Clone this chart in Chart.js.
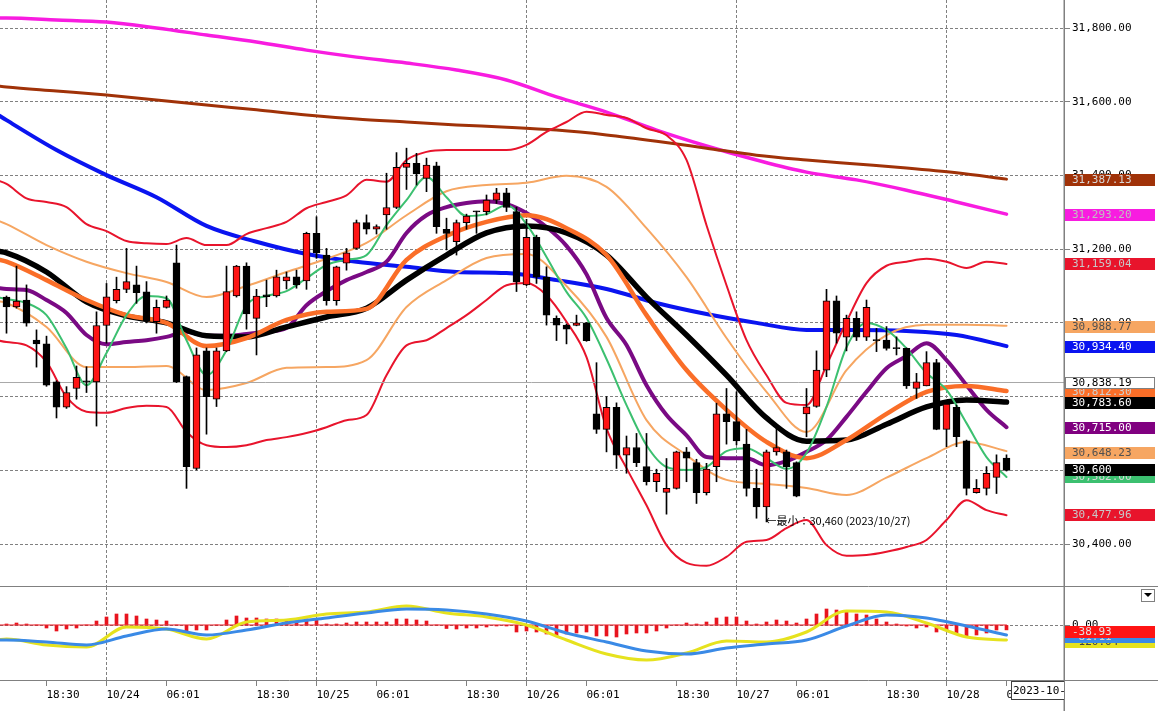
<!DOCTYPE html>
<html>
<head>
<meta charset="utf-8">
<script src="https://cdn.jsdelivr.net/npm/chart.js@4.4.0/dist/chart.umd.min.js"></script>
<style>
  html, body { margin: 0; padding: 0; background: #fff; overflow: hidden; }
  #wrap { position: relative; width: 1158px; height: 711px; }
  canvas { position: absolute; left: 0; }
  #main { top: 0; }
  #macd { top: 587px; }
</style>
</head>
<body>
<div id="wrap">
  <canvas id="main" width="1158" height="587"></canvas>
  <canvas id="macd" width="1158" height="124"></canvas>
</div>
<script>
// --- Data: hourly candles, index 0..100 ---
const candleOpen = [
  31070, 31043, 31062, 30953, 30943, 30840, 30771, 30822, 30843, 30840,
  30993, 31060, 31091, 31103, 31084, 31003, 31042, 31163, 30854, 30605,
  30924, 30793, 30924, 31073, 31154, 31012, 31076, 31073, 31114, 31125,
  31114, 31243, 31184, 31060, 31162, 31202, 31272, 31254, 31293, 31313,
  31422, 31433, 31392, 31426, 31254, 31220, 31272, 31302, 31302, 31333,
  31353, 31302, 31103, 31232, 31124, 31012, 30994, 30993, 31000, 30753,
  30711, 30771, 30641, 30662, 30610, 30569, 30540, 30551, 30650, 30621,
  30539, 30610, 30753, 30732, 30671, 30551, 30501, 30650, 30650, 30621,
  30753, 30773, 30872, 31060, 30961, 31012, 30961, 30954, 30953, 30931,
  30931, 30822, 30829, 30892, 30711, 30771, 30680, 30539, 30551, 30581,
  30633
];
const candleHigh = [
  31073, 31154, 31103, 30981, 30964, 30843, 30827, 30883, 30881, 31030,
  31107, 31124, 31202, 31154, 31112, 31062, 31073, 31211, 30856, 30932,
  30932, 30932, 31154, 31156, 31163, 31091, 31116, 31143, 31138, 31143,
  31246, 31288, 31202, 31154, 31202, 31279, 31293, 31266, 31406, 31462,
  31474, 31460, 31447, 31436, 31284, 31279, 31295, 31303, 31347, 31365,
  31365, 31314, 31281, 31238, 31152, 31019, 30997, 31021, 31001, 30892,
  30800, 30783, 30693, 30700, 30700, 30603, 30632, 30652, 30662, 30630,
  30619, 30782, 30822, 30813, 30711, 30603, 30655, 30723, 30655, 30623,
  30822, 30924, 31091, 31073, 31021, 31030, 31062, 30985, 30990, 30962,
  30932, 30863, 30922, 30901, 30781, 30777, 30682, 30575, 30610, 30642,
  30642
];
const candleLow = [
  30972, 31040, 30991, 30880, 30828, 30742, 30768, 30793, 30811, 30720,
  30945, 31054, 31082, 31053, 31000, 30972, 31040, 30838, 30551, 30601,
  30698, 30773, 30922, 31070, 30983, 30913, 31044, 31070, 31092, 31094,
  31091, 31175, 31048, 31048, 31143, 31200, 31241, 31241, 31254, 31310,
  31362, 31374, 31356, 31243, 31198, 31184, 31254, 31243, 31293, 31324,
  31302, 31085, 31101, 31107, 30994, 30952, 30943, 30992, 30950, 30700,
  30650, 30605, 30592, 30610, 30560, 30542, 30481, 30549, 30569, 30510,
  30533, 30569, 30671, 30669, 30530, 30470, 30460, 30641, 30551, 30528,
  30691, 30771, 30854, 30945, 30924, 30952, 30952, 30922, 30926, 30913,
  30822, 30795, 30829, 30710, 30664, 30664, 30533, 30538, 30533, 30537,
  30598
];
const candleClose = [
  31043, 31059, 30999, 30943, 30831, 30771, 30811, 30852, 30840, 30993,
  31071, 31091, 31112, 31082, 31006, 31042, 31062, 30840, 30610, 30913,
  30800, 30924, 31085, 31154, 31024, 31073, 31071, 31125, 31125, 31103,
  31243, 31190, 31060, 31152, 31190, 31272, 31254, 31261, 31313, 31422,
  31433, 31404, 31428, 31261, 31243, 31272, 31290, 31301, 31333, 31353,
  31313, 31112, 31232, 31124, 31021, 30994, 30983, 31000, 30952, 30711,
  30771, 30641, 30662, 30621, 30569, 30592, 30551, 30650, 30633, 30539,
  30603, 30753, 30732, 30680, 30551, 30501, 30650, 30662, 30610, 30530,
  30772, 30872, 31060, 30972, 31012, 30961, 31042, 30952, 30931, 30930,
  30829, 30840, 30892, 30711, 30780, 30691, 30551, 30551, 30592, 30621,
  30600
];

// indicator lines, sampled every 2 / 4 / 5 candles (first point = left edge)
const ma5 = [31070, 31065, 31054, 31021, 30931, 30831, 30918, 31021, 31073, 31067, 30953,
  30858, 30926, 31048, 31073, 31086, 31121, 31157, 31171, 31184, 31265,
  31333, 31396, 31341, 31290, 31295, 31319, 31268, 31179, 31084, 31013,
  30902, 30777, 30668, 30609, 30601, 30609, 30652, 30660, 30633, 30604,
  30647, 30772, 30934, 31000, 30981, 30931, 30864, 30818, 30728, 30636, 30582];
const ma10 = [31095, 31092, 31089, 31062, 31027, 30967, 30942, 30948, 30953, 30962, 30976,
  30965, 30965, 30970, 30976, 30986, 31048, 31086, 31116, 31138, 31166,
  31244, 31292, 31314, 31325, 31330, 31322, 31298, 31260, 31209, 31132,
  31013, 30940, 30831, 30750, 30695, 30636, 30633, 30633, 30614, 30625,
  30650, 30682, 30745, 30813, 30877, 30910, 30945, 30899, 30831, 30764, 30717];
const bbUpper2 = [31388, 31377, 31338, 31328, 31314, 31268, 31249, 31222, 31216, 31214, 31230,
  31211, 31211, 31241, 31257, 31274, 31311, 31328, 31346, 31388, 31383,
  31442, 31464, 31469, 31469, 31469, 31469, 31483, 31518, 31545, 31573,
  31564, 31556, 31528, 31509, 31442, 31265, 31102, 30953, 30858, 30783,
  30777, 30885, 31003, 31108, 31155, 31166, 31174, 31166, 31149, 31166, 31160];
const bbLower2 = [30953, 30948, 30939, 30894, 30799, 30759, 30756, 30769, 30775, 30772, 30704,
  30668, 30663, 30668, 30682, 30690, 30701, 30717, 30736, 30750, 30858,
  30939, 30953, 30986, 31021, 31062, 31102, 31108, 31075, 31003, 30907,
  30714, 30606, 30505, 30397, 30349, 30341, 30365, 30406, 30411, 30443,
  30465, 30397, 30368, 30370, 30379, 30392, 30411, 30465, 30519, 30492, 30478];
const ma20 = [31173, 31166, 31116, 31062, 31021, 31000, 30937, 30959, 31008, 31030, 31038,
  31171, 31236, 31274, 31292, 31257, 31184, 31021, 30872, 30764, 30677,
  30633, 30682, 30753, 30813, 30829, 30815];
const ma25 = [31195, 31190, 31138, 31057, 31019, 31000, 30965, 30962, 30989, 31016, 31040,
  31116, 31184, 31244, 31263, 31244, 31184, 31070, 30967, 30858, 30742,
  30679, 30682, 30725, 30772, 30791, 30785];
const bbUpper1 = [31279, 31268, 31211, 31166, 31135, 31111, 31070, 31100, 31138, 31174, 31217,
  31292, 31357, 31374, 31380, 31399, 31369, 31257, 31124, 30959, 30813,
  30704, 30872, 30967, 30995, 30995, 30992];
const bbLower1 = [31059, 31054, 30989, 30880, 30880, 30883, 30818, 30837, 30878, 30880, 30899,
  31043, 31116, 31176, 31187, 31100, 30962, 30736, 30641, 30574, 30563,
  30552, 30533, 30580, 30633, 30677, 30652];
const ma75 = [31567, 31550, 31469, 31401, 31341, 31263, 31220, 31187, 31166, 31152, 31138,
  31135, 31116, 31092, 31054, 31024, 31000, 30981, 30981, 30978, 30967, 30937];
const ma100 = [31643, 31640, 31629, 31618, 31605, 31591, 31578, 31564, 31553, 31545, 31537,
  31531, 31523, 31510, 31493, 31474, 31455, 31442, 31431, 31420, 31407, 31390];
const ma200 = [31827, 31827, 31822, 31816, 31800, 31781, 31762, 31740, 31721, 31705, 31686,
  31659, 31613, 31572, 31523, 31480, 31442, 31409, 31388, 31360, 31328, 31295];
const refPrice = 30838.19;

// MACD panel
const macdLine = [-120, -112, -160, -176, -16, -32, -112, 24, 40, 88, 104, 152, 96, 64, 0,
  -120, -232, -280, -224, -128, -136, -56, 112, 104, 16, -96, -120];
const macdSignal = [-120, -120, -136, -160, -88, -32, -80, -40, 16, 56, 96, 128, 120, 88, 32,
  -64, -136, -208, -232, -184, -152, -120, -8, 80, 56, -8, -80];
const macdHist = [
  8, 16, 8, 0, -24, -48, -32, -24, 0, 32,
  64, 88, 88, 72, 48, 40, 32, 0, -64, -40,
  -40, 0, 40, 72, 56, 56, 48, 48, 40, 32,
  48, 40, 8, 8, 16, 24, 24, 24, 24, 48,
  48, 40, 32, 0, -28, -32, -24, -24, -16, -8,
  -8, -56, -48, -56, -72, -88, -72, -64, -56, -88,
  -88, -96, -72, -64, -64, -48, -24, 0, 16, 8,
  24, 56, 64, 64, 32, 8, 24, 40, 32, 16,
  48, 88, 128, 120, 112, 88, 80, 48, 24, 8,
  -8, -24, -16, -56, -40, -64, -96, -80, -64, -40,
  -39
];

// axes
const priceTicks = [30400, 30600, 30800, 31000, 31200, 31400, 31600, 31800];
const macdTicks = [0];
const timeTickIdx = [4, 10, 16, 25, 31, 37, 46, 52, 58, 67, 73, 79, 88, 94, 100];
const timeTickLabels = ['18:30', '10/24', '06:01', '18:30', '10/25', '06:01', '18:30', '10/26',
  '06:01', '18:30', '10/27', '06:01', '18:30', '10/28', '06:01'];
const dayTickIdx = [10, 31, 52, 73, 94];
const lowDateLabel = '2023/10/27';
const cursorDateLabel = '2023-10-28 06:00';

// last-value tags on the right axis (drawn in this order)
const tagValues = [31387.13, 31293.20, 31159.04, 30988.77, 30934.40, 30812.30, 30838.19,
  30783.60, 30715.00, 30648.23, 30582.00, 30600, 30477.96];
const tagDigits = [2, 2, 2, 2, 2, 2, 2, 2, 2, 2, 2, 0, 2];
const macdTagValues = [-120.04, -81.11, -38.93];

// --- Styles ---
const C = {
  ma200: '#f81ce0', ma100: '#a03208', ma75: '#0a14f0', ma25: '#000000', ma20: '#fa6e28',
  ma10: '#7a0a84', ma5: '#3cc070', bb2: '#e8142c', bb1: '#f6a662', ref: '#a8a8a8',
  up: '#ff1414', down: '#000000', grid: '#808080', frame: '#808080',
  macd: '#e6e21e', signal: '#3a8ae6', hist: '#e8141e'
};
const tagStyles = [
  { bg: C.ma100, fg: '#d8d8d8' }, { bg: C.ma200, fg: '#c0c0c0' }, { bg: C.bb2, fg: '#c8c8c8' },
  { bg: C.bb1, fg: '#505050' }, { bg: C.ma75, fg: '#ffffff' }, { bg: C.ma20, fg: '#d0d0d0' },
  { bg: '#ffffff', fg: '#000000', border: '#808080' }, { bg: '#000000', fg: '#ffffff' },
  { bg: '#800080', fg: '#ffffff' }, { bg: C.bb1, fg: '#505050' }, { bg: C.ma5, fg: '#d8d8d8' },
  { bg: '#000000', fg: '#ffffff' }, { bg: C.bb2, fg: '#c8c8c8' }
];
const macdTagStyles = [
  { bg: '#e6e21e', fg: '#404040' }, { bg: C.signal, fg: '#d0d0d0' }, { bg: '#ff1414', fg: '#e0e0e0' }
];
const MONO = '"DejaVu Sans Mono", monospace';
const X_MIN = -0.65, X_MAX = 105.75;

Chart.defaults.font.family = MONO;
Chart.defaults.font.size = 11;
Chart.defaults.color = '#000';

// --- Helpers ---
const sampleIdx = (step) => { const a = [-1]; for (let i = 0; i <= 100; i += step) a.push(i); return a; };
const idx2 = sampleIdx(2), idx4 = sampleIdx(4), idx5 = sampleIdx(5);
const pts = (idx, vals) => idx.map((x, k) => ({ x, y: vals[k] }));
const fmt = (v, d) => v.toLocaleString('en-US', { minimumFractionDigits: d, maximumFractionDigits: d });

const lineDs = (data, color, width, order) => ({
  type: 'line', data, borderColor: color, borderWidth: width, pointRadius: 0,
  cubicInterpolationMode: 'monotone', fill: false, order,
  borderJoinStyle: 'round', borderCapStyle: 'round'
});

function drawTag(ctx, x, y, text, st) {
  ctx.fillStyle = st.bg;
  ctx.fillRect(x, Math.round(y) - 6, 90, 12);
  if (st.border) {
    ctx.strokeStyle = st.border; ctx.lineWidth = 1;
    ctx.strokeRect(x + 0.5, Math.round(y) - 5.5, 89, 11);
  }
  ctx.fillStyle = st.fg;
  ctx.font = '11px ' + MONO;
  ctx.textAlign = 'left'; ctx.textBaseline = 'middle';
  ctx.fillText(text, x + 7, Math.round(y) + 0.5);
}
function hline(ctx, x1, x2, y) { ctx.beginPath(); ctx.moveTo(x1, y); ctx.lineTo(x2, y); ctx.stroke(); }
function vline(ctx, x, y1, y2) { ctx.beginPath(); ctx.moveTo(x, y1); ctx.lineTo(x, y2); ctx.stroke(); }

const fixWidth = (s) => { s.width = 94; s.paddingTop = 0; s.paddingBottom = 0; };

// --- Main price panel ---
const mainOverlay = {
  id: 'mainOverlay',
  afterDraw(chart) {
    const { ctx, chartArea: a, scales: { x, y } } = chart;
    ctx.save();
    // lowest low marker
    let k = 0;
    candleLow.forEach((v, i) => { if (v < candleLow[k]) k = i; });
    ctx.font = '11px "Noto Sans CJK JP", sans-serif';
    ctx.fillStyle = '#000'; ctx.textAlign = 'left'; ctx.textBaseline = 'middle';
    ctx.fillText('←最小：' + fmt(candleLow[k], 0) + ' (' + lowDateLabel + ')',
      x.getPixelForValue(k) - 1, y.getPixelForValue(candleLow[k]) - 1);
    // frame
    ctx.strokeStyle = C.frame; ctx.lineWidth = 1;
    hline(ctx, 0, chart.width, a.bottom - 0.5);
    ctx.lineWidth = 1.5;
    vline(ctx, a.right + 0.25, 0, chart.height);
    // value tags
    tagValues.forEach((v, i) => drawTag(ctx, a.right + 1, y.getPixelForValue(v), fmt(v, tagDigits[i]), tagStyles[i]));
    ctx.restore();
  }
};

new Chart(document.getElementById('main'), {
  type: 'line',
  data: {
    datasets: [
      lineDs(pts(idx5, ma200), C.ma200, 3.5, 30),
      lineDs(pts(idx5, ma100), C.ma100, 3, 29),
      lineDs(pts(idx5, ma75), C.ma75, 4, 28),
      lineDs(pts(idx2, bbUpper2), C.bb2, 2, 27),
      lineDs(pts(idx2, bbLower2), C.bb2, 2, 26),
      lineDs(pts(idx4, bbUpper1), C.bb1, 2, 25),
      lineDs(pts(idx4, bbLower1), C.bb1, 2, 24),
      lineDs([{ x: -1, y: refPrice }, { x: 106, y: refPrice }], C.ref, 1, 23),
      lineDs(pts(idx2, ma10), C.ma10, 4, 22),
      lineDs(pts(idx4, ma25), C.ma25, 5.5, 21),
      lineDs(pts(idx4, ma20), C.ma20, 4.5, 20),
      lineDs(pts(idx2, ma5), C.ma5, 2, 19),
      {
        type: 'bar', order: 1, grouped: false, barThickness: 1,
        data: candleLow.map((l, i) => ({ x: i, y: [l, candleHigh[i]] })),
        backgroundColor: '#000', borderWidth: 0
      },
      {
        type: 'bar', order: 0, grouped: false, barThickness: 7, minBarLength: 1,
        data: candleOpen.map((o, i) => ({ x: i, y: [o, candleClose[i]] })),
        backgroundColor: (c) => candleClose[c.dataIndex] >= candleOpen[c.dataIndex] ? C.up : C.down,
        borderColor: '#000', borderWidth: 1, borderSkipped: false
      }
    ]
  },
  options: {
    responsive: false, animation: false, events: [],
    layout: { padding: 0 },
    plugins: { legend: { display: false }, tooltip: { enabled: false } },
    scales: {
      x: {
        type: 'linear', min: X_MIN, max: X_MAX, offset: false,
        afterBuildTicks: (s) => { s.ticks = dayTickIdx.map(v => ({ value: v })); },
        afterFit: (s) => { s.height = 0; s.paddingLeft = 0; s.paddingRight = 0; },
        ticks: { display: false },
        grid: { color: C.grid, lineWidth: 1, drawTicks: false, offset: false },
        border: { display: false, dash: [3, 2] }
      },
      y: {
        type: 'linear', position: 'right', min: 30283.4, max: 31876,
        afterBuildTicks: (s) => { s.ticks = priceTicks.map(v => ({ value: v })); },
        afterFit: fixWidth,
        ticks: { padding: 2, callback: (v) => fmt(v, 2) },
        grid: { color: C.grid, lineWidth: 1, drawTicks: true, tickLength: 6, tickColor: C.grid },
        border: { display: false, dash: [3, 2] }
      }
    }
  },
  plugins: [mainOverlay]
});

// --- MACD panel with time axis ---
const macdOverlay = {
  id: 'macdOverlay',
  afterDraw(chart) {
    const { ctx, chartArea: a, scales: { y } } = chart;
    ctx.save();
    ctx.strokeStyle = C.frame; ctx.lineWidth = 1;
    hline(ctx, 0, chart.width, a.bottom + 0.5);
    ctx.lineWidth = 1.5;
    vline(ctx, a.right + 0.25, 0, chart.height);
    macdTagValues.forEach((v, i) => drawTag(ctx, a.right + 1, y.getPixelForValue(v) + 2, fmt(v, 2), macdTagStyles[i]));
    // dropdown button
    ctx.fillStyle = '#fff'; ctx.strokeStyle = '#808080'; ctx.lineWidth = 1;
    ctx.fillRect(1141, 2, 14, 13); ctx.strokeRect(1141.5, 2.5, 13, 12);
    ctx.fillStyle = '#000';
    ctx.beginPath(); ctx.moveTo(1144, 6); ctx.lineTo(1152, 6); ctx.lineTo(1148, 10); ctx.closePath(); ctx.fill();
    // cursor date box
    ctx.beginPath(); ctx.rect(1011, a.bottom + 1, a.right - 1011, 20); ctx.clip();
    ctx.fillStyle = '#fff'; ctx.fillRect(1011, a.bottom + 1, 80, 19);
    ctx.strokeStyle = '#404040'; ctx.strokeRect(1011.5, a.bottom + 1.5, 80, 18);
    ctx.fillStyle = '#000'; ctx.font = '11px ' + MONO; ctx.textBaseline = 'middle'; ctx.textAlign = 'left';
    ctx.fillText(cursorDateLabel, 1013, a.bottom + 11);
    ctx.restore();
  }
};

new Chart(document.getElementById('macd'), {
  type: 'line',
  data: {
    datasets: [
      {
        type: 'bar', order: 5, grouped: false, barThickness: 3,
        data: macdHist.map((v, i) => ({ x: i, y: v })),
        backgroundColor: C.hist, borderWidth: 0
      },
      lineDs([{ x: -1, y: 0 }, { x: 100, y: 0 }], C.hist, 1, 4),
      lineDs(pts(idx4, macdLine), C.macd, 3, 3),
      lineDs(pts(idx4, macdSignal), C.signal, 3, 2)
    ]
  },
  options: {
    responsive: false, animation: false, events: [],
    layout: { padding: 0 },
    plugins: { legend: { display: false }, tooltip: { enabled: false } },
    scales: {
      x: {
        type: 'linear', min: X_MIN, max: X_MAX, offset: false,
        afterBuildTicks: (s) => { s.ticks = timeTickIdx.map(v => ({ value: v })); },
        afterFit: (s) => { s.height = 31; s.paddingLeft = 0; s.paddingRight = 0; },
        ticks: {
          autoSkip: false, maxRotation: 0, minRotation: 0, align: 'start', padding: 3,
          callback: (v) => timeTickLabels[timeTickIdx.indexOf(v)]
        },
        grid: {
          offset: false, lineWidth: 1, drawTicks: true, tickLength: 6, tickColor: C.grid,
          color: (c) => c.tick && dayTickIdx.includes(c.tick.value) ? C.grid : 'rgba(0,0,0,0)'
        },
        border: { display: false, dash: [3, 2] }
      },
      y: {
        type: 'linear', position: 'right', min: -440, max: 304,
        afterBuildTicks: (s) => { s.ticks = macdTicks.map(v => ({ value: v })); },
        afterFit: fixWidth,
        ticks: { padding: 2, callback: (v) => fmt(v, 2) },
        grid: { color: C.grid, lineWidth: 1, drawTicks: true, tickLength: 6, tickColor: C.grid },
        border: { display: false, dash: [3, 2] }
      }
    }
  },
  plugins: [macdOverlay]
});
</script>
</body>
</html>
